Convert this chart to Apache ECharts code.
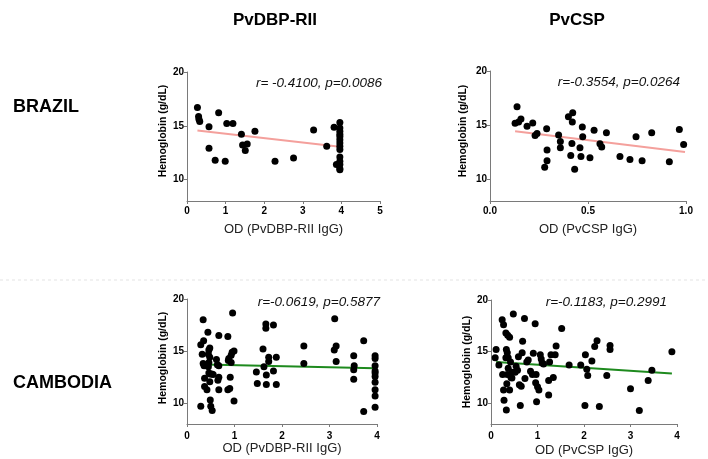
<!DOCTYPE html>
<html><head><meta charset="utf-8">
<script src="https://cdn.jsdelivr.net/npm/echarts@6/dist/echarts.min.js"></script>
<style>html,body{margin:0;padding:0;background:#fff}#c{width:708px;height:459px}</style>
</head><body><div id="c"></div>
<script>
var colTitles = ['PvDBP-RII', 'PvCSP'];
var rowTitles = ['BRAZIL', 'CAMBODIA'];
var xNames = ['OD (PvDBP-RII IgG)', 'OD (PvCSP IgG)', 'OD (PvDBP-RII IgG)', 'OD (PvCSP IgG)'];
var yName = 'Hemoglobin (g/dL)';
var statTexts = ['r= -0.4100, p=0.0086', 'r=-0.3554, p=0.0264', 'r=-0.0619, p=0.5877', 'r=-0.1183, p=0.2991'];
var yTicks = [10, 15, 20];

var brazilDbp = [[0.27,16.7],[0.30,15.85],[0.31,15.6],[0.33,15.4],[0.57,14.9],[0.57,12.9],[0.82,16.2],[0.73,11.8],[0.99,11.7],[1.03,15.2],[1.19,15.2],[1.41,14.2],[1.44,13.2],[1.56,13.3],[1.51,12.7],[1.76,14.5],[2.28,11.7],[2.76,12.0],[3.28,14.6],[3.62,13.1],[3.81,14.85],[3.87,11.4],[3.96,15.3],[3.96,14.8],[3.96,14.5],[3.96,14.2],[3.96,14.0],[3.96,13.7],[3.96,13.4],[3.96,13.1],[3.96,12.8],[3.96,12.1],[3.96,11.7],[3.96,11.4],[3.96,11.0],[3.96,10.9]];
var brazilDbpFit = [[0.27,14.55],[3.96,13.05]];

var brazilCsp = [[0.128,15.18],[0.138,16.69],[0.146,15.30],[0.158,15.57],[0.189,14.91],[0.218,15.21],[0.230,14.04],[0.240,14.22],[0.289,14.67],[0.291,12.71],[0.291,11.72],[0.279,11.11],[0.350,14.10],[0.359,13.49],[0.359,12.92],[0.400,15.78],[0.422,16.14],[0.420,15.30],[0.418,13.31],[0.412,12.20],[0.432,10.93],[0.459,12.92],[0.471,14.82],[0.473,13.92],[0.464,12.11],[0.510,11.99],[0.531,14.52],[0.594,14.31],[0.561,13.28],[0.570,12.98],[0.663,12.11],[0.714,11.84],[0.745,13.92],[0.776,11.72],[0.825,14.31],[0.915,11.63],[0.966,14.60],[0.988,13.22]];
var brazilCspFit = [[0.128,14.43],[0.995,12.53]];

var cambodiaDbp = [[0.29,9.7],[0.34,18.0],[0.29,15.6],[0.35,16.0],[0.32,14.7],[0.34,13.8],[0.36,13.6],[0.37,12.4],[0.37,11.6],[0.42,11.3],[0.44,16.8],[0.45,14.7],[0.46,15.1],[0.46,13.9],[0.46,12.9],[0.48,12.8],[0.48,12.05],[0.49,10.3],[0.50,9.7],[0.53,9.3],[0.52,12.8],[0.55,12.75],[0.45,13.5],[0.48,14.4],[0.48,15.3],
[0.62,14.2],[0.64,13.7],[0.65,12.2],[0.67,11.3],[0.67,16.5],[0.67,12.5],[0.67,13.6],[0.86,16.4],[0.87,14.1],[0.88,14.3],[0.86,11.3],[0.90,11.4],[0.91,12.5],[0.93,14.6],[0.95,14.9],[0.96,18.65],[0.99,10.2],[0.99,15.0],[0.93,13.9],
[1.46,13.0],[1.48,11.9],[1.60,15.2],[1.62,13.5],[1.66,17.6],[1.66,17.2],[1.67,12.7],[1.67,11.8],[1.72,14.4],[1.72,14.0],[1.82,17.5],[1.82,13.1],[1.88,14.4],[1.88,11.8],
[2.46,15.5],[2.46,13.8],[3.11,18.1],[3.10,15.1],[3.14,15.5],[3.14,14.0],[3.51,14.55],[3.52,13.6],[3.51,13.2],[3.51,12.3],[3.72,16.0],[3.72,9.2],
[3.96,14.55],[3.96,14.3],[3.96,13.6],[3.96,13.1],[3.96,12.9],[3.96,12.55],[3.96,12.0],[3.96,11.3],[3.96,10.7],[3.96,9.6]];
var cambodiaDbpFit = [[0.37,13.72],[3.96,13.35]];

var cambodiaCsp = [[0.11,15.2],[0.09,14.4],[0.17,13.7],[0.25,12.8],[0.24,18.1],[0.27,17.6],[0.27,11.3],[0.28,10.3],[0.33,9.35],[0.32,16.8],[0.36,16.6],[0.40,16.4],[0.33,15.2],[0.35,14.9],[0.32,14.4],[0.37,14.4],[0.34,11.9],[0.35,12.8],[0.37,13.4],[0.40,11.3],[0.42,14.0],[0.43,12.5],[0.45,13.0],[0.45,12.45],[0.48,18.65],[0.52,13.0],[0.54,13.6],[0.57,13.2],[0.59,14.5],[0.61,11.8],[0.63,9.8],[0.65,11.65],[0.68,16.0],[0.67,14.9],[0.72,18.2],[0.73,12.4],[0.77,14.0],[0.80,14.2],[0.85,13.1],[0.89,12.8],[0.91,14.85],[0.95,17.7],[0.96,12.0],[0.97,12.8],[0.98,10.15],[1.00,11.6],[1.03,11.3],[1.06,14.7],[1.08,14.3],[1.10,13.9],[1.13,13.8],[1.24,12.2],[1.24,10.8],[1.26,14.0],[1.29,14.7],[1.34,12.5],[1.38,14.7],[1.40,15.55],[1.52,17.25],[1.68,13.7],[1.93,13.7],[2.03,14.7],[2.02,9.8],[2.06,13.3],[2.08,12.7],[2.17,14.1],[2.23,15.5],[2.28,16.05],[2.33,9.7],[2.49,12.7],[2.56,15.6],[2.56,15.2],[3.00,11.4],[3.19,9.3],[3.38,12.2],[3.46,13.2],[3.89,15.0]];
var cambodiaCspFit = [[0.11,13.99],[3.89,12.88]];

var FONT = '"Liberation Sans", Arial, sans-serif';
var grids = [
  {left:187, top:72, width:193, height:129},
  {left:490, top:71, width:196, height:130},
  {left:187, top:299, width:190, height:125},
  {left:491, top:300, width:186, height:124}
];
var xRanges = [[0,5,1],[0,1,0.5],[0,4,1],[0,4,1]];
var xNameGaps = [22, 22, 17, 20];
var xLabelMargins = [5, 5, 7, 7];
var axisGray = '#7a7a7a';

function xAxis(i){
  return {
    gridIndex:i, type:'value', min:xRanges[i][0], max:xRanges[i][1], interval:xRanges[i][2],
    name:xNames[i], nameLocation:'middle', nameGap:xNameGaps[i],
    nameTextStyle:{fontFamily:FONT, fontSize:13, color:'#222'},
    axisLine:{show:true, lineStyle:{color:axisGray, width:1}},
    axisTick:{show:true, length:3, lineStyle:{color:axisGray}},
    axisLabel:{fontFamily:FONT, fontSize:10, fontWeight:'bold', color:'#000', margin:xLabelMargins[i],
      formatter: i===1 ? function(v){return v.toFixed(1);} : null},
    splitLine:{show:false}
  };
}
function yAxis(i){
  return {
    gridIndex:i, type:'value', min:8, max:20,
    axisLine:{show:true, lineStyle:{color:axisGray, width:1}},
    axisTick:{show:true, length:3, lineStyle:{color:axisGray}, customValues:yTicks},
    axisLabel:{fontFamily:FONT, fontSize:10, fontWeight:'bold', color:'#000', margin:3, customValues:yTicks},
    splitLine:{show:false}
  };
}
var scatterSets = [brazilDbp, brazilCsp, cambodiaDbp, cambodiaCsp];
var fitSets = [brazilDbpFit, brazilCspFit, cambodiaDbpFit, cambodiaCspFit];
var fitColors = ['#f4a09c', '#f4a09c', '#1e8a1e', '#1e8a1e'];
var series = [];
for (var i=0;i<4;i++){
  series.push({type:'line', xAxisIndex:i, yAxisIndex:i, data:fitSets[i], showSymbol:false, symbol:'none',
    lineStyle:{color:fitColors[i], width:2}, z:2, silent:true});
  series.push({type:'scatter', xAxisIndex:i, yAxisIndex:i, data:scatterSets[i], symbolSize:7,
    itemStyle:{color:'#000', opacity:1}, z:3, silent:true});
}
var statPos = [[382,83],[680,82],[380,302],[667,302]];
var yNamePos = [[163,131],[463,131],[163,358],[467,362]];
var graphic = [];
graphic.push({type:'text', x:275, y:20, style:{text:colTitles[0], font:'bold 17px '+FONT, fill:'#000', align:'center', verticalAlign:'middle'}});
graphic.push({type:'text', x:577, y:20, style:{text:colTitles[1], font:'bold 17px '+FONT, fill:'#000', align:'center', verticalAlign:'middle'}});
graphic.push({type:'text', x:13, y:107, style:{text:rowTitles[0], font:'bold 18px '+FONT, fill:'#000', align:'left', verticalAlign:'middle'}});
graphic.push({type:'text', x:13, y:383, style:{text:rowTitles[1], font:'bold 18px '+FONT, fill:'#000', align:'left', verticalAlign:'middle'}});
graphic.push({type:'line', shape:{x1:0, y1:280, x2:708, y2:280}, style:{stroke:'#e4e4e4', lineWidth:1, lineDash:[3,3]}});
for (var k=0;k<4;k++){
  graphic.push({type:'text', x:statPos[k][0], y:statPos[k][1], style:{text:statTexts[k], font:'italic 13.5px '+FONT, fill:'#111', align:'right', verticalAlign:'middle'}});
  graphic.push({type:'text', x:yNamePos[k][0], y:yNamePos[k][1], rotation:Math.PI/2, style:{text:yName, font:'bold 10.5px '+FONT, fill:'#000', align:'center', verticalAlign:'middle'}});
}
var chart = echarts.init(document.getElementById('c'), null, {renderer:'canvas'});
chart.setOption({
  animation:false,
  backgroundColor:'#fff',
  grid:grids,
  xAxis:[0,1,2,3].map(xAxis),
  yAxis:[0,1,2,3].map(yAxis),
  series:series,
  graphic:graphic
});
</script></body></html>
